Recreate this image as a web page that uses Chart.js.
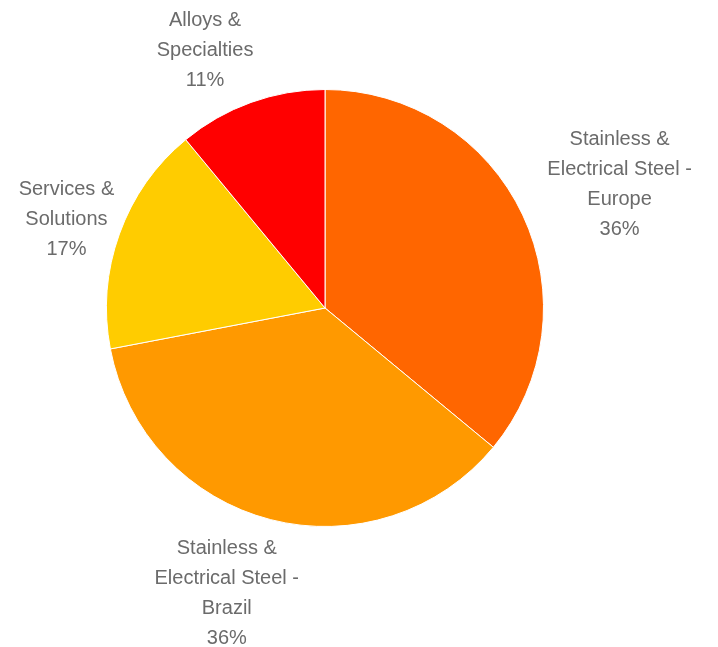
<!DOCTYPE html>
<html>
<head>
<meta charset="utf-8">
<script src="https://cdn.jsdelivr.net/npm/chart.js@4/dist/chart.umd.min.js"></script>
<style>
  html, body { margin: 0; padding: 0; background: #fff; }
  #wrap { width: 718px; height: 647px; }
</style>
</head>
<body>
<div id="wrap"><canvas id="myChart"></canvas></div>
<script>
// data
var categories = [
  ["Stainless &", "Electrical Steel -", "Europe"],
  ["Stainless &", "Electrical Steel -", "Brazil"],
  ["Services &", "Solutions"],
  ["Alloys &", "Specialties"]
];
var shares = [36, 36, 17, 11];
var sliceColors = ["#FF6600", "#FF9900", "#FFCC00", "#FF0000"];

// small hand nudges so the labels sit where the original puts them (px)
var labelNudge = [[12, 9], [-25, 0], [8, 7], [-25, 6]];

// labels outside the pie: category lines + percent
var outsideLabels = {
  id: "outsideLabels",
  afterDatasetsDraw: function(chart) {
    var ctx = chart.ctx;
    var meta = chart.getDatasetMeta(0);
    var total = shares.reduce(function(a, b) { return a + b; }, 0);
    var lineH = 30;
    var gap = 14;
    ctx.save();
    ctx.font = "20px 'Liberation Sans', Arial, sans-serif";
    ctx.fillStyle = "#6b6b6b";
    ctx.textAlign = "center";
    ctx.textBaseline = "middle";
    meta.data.forEach(function(arc, i) {
      var p = arc.getProps(["x", "y", "startAngle", "endAngle", "outerRadius"], true);
      var mid = (p.startAngle + p.endAngle) / 2;
      var ux = Math.cos(mid), uy = Math.sin(mid);
      var lines = categories[i].concat([Math.round(shares[i] / total * 100) + "%"]);
      var w = 0;
      lines.forEach(function(l) { w = Math.max(w, ctx.measureText(l).width); });
      var hw = w / 2, hh = lines.length * lineH / 2;
      var ext = Math.min(Math.abs(ux) > 1e-6 ? hw / Math.abs(ux) : 1e9,
                         Math.abs(uy) > 1e-6 ? hh / Math.abs(uy) : 1e9);
      var d = p.outerRadius + gap + ext;
      var cx = p.x + ux * d + labelNudge[i][0];
      var cy = p.y + uy * d + labelNudge[i][1];
      lines.forEach(function(l, k) {
        ctx.fillText(l, cx, cy - hh + lineH * (k + 0.5));
      });
    });
    ctx.restore();
  }
};

var ctx = document.getElementById("myChart");
var myChart = new Chart(ctx, {
  type: "pie",
  data: {
    labels: categories.map(function(c) { return c.join(" "); }),
    datasets: [{
      data: shares,
      backgroundColor: sliceColors,
      borderColor: "#ffffff",
      borderWidth: 1
    }]
  },
  options: {
    responsive: true,
    maintainAspectRatio: false,
    animation: false,
    layout: { padding: { left: 106, right: 174, top: 89, bottom: 120 } },
    plugins: {
      legend: { display: false },
      tooltip: { enabled: false }
    }
  },
  plugins: [outsideLabels]
});
</script>
</body>
</html>
